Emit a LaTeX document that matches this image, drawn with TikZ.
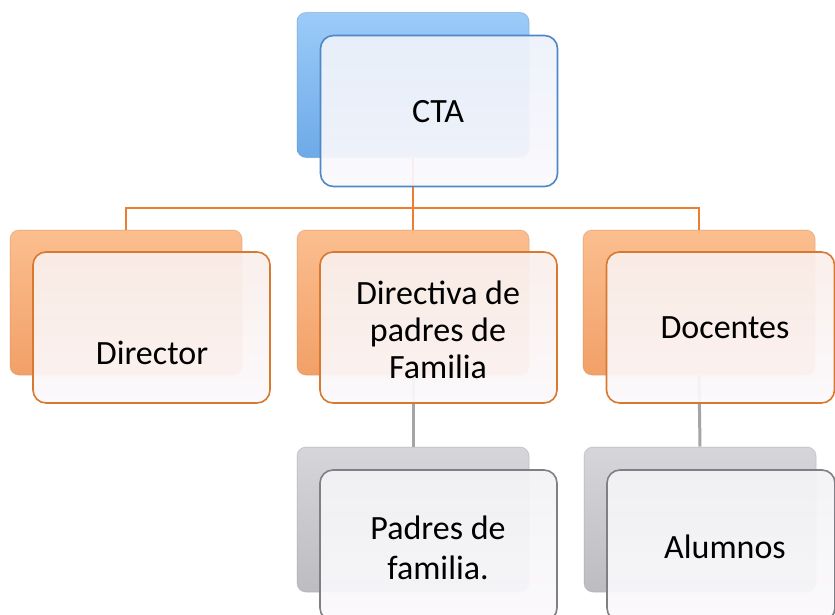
\documentclass[tikz,border=0pt]{standalone}
\usepackage{fontspec}
\setmainfont{Carlito}
\definecolor{bluetop}{HTML}{9CCBF8}
\definecolor{bluebot}{HTML}{6DAAE8}
\definecolor{blueedge}{HTML}{4F87C6}
\definecolor{orgtop}{HTML}{FBBE8F}
\definecolor{orgbot}{HTML}{F2A068}
\definecolor{orgedge}{HTML}{D9782F}
\definecolor{graytop}{HTML}{D6D6DA}
\definecolor{graybot}{HTML}{BCBCC1}
\definecolor{grayedge}{HTML}{808084}
\definecolor{orgline}{HTML}{ED7D31}
\definecolor{grayline}{HTML}{A5A5A8}
\definecolor{bluefront}{HTML}{EDF2FA}
\definecolor{orgfront}{HTML}{FAEFEB}
\definecolor{grayfront}{HTML}{F3F3F5}
\definecolor{frontbot}{HTML}{FBF9FC}
\begin{document}
\begin{tikzpicture}[x=1pt,y=-1pt,
  backbox/.style={rectangle, rounded corners=9pt, minimum width=232pt, minimum height=145pt, inner sep=0pt},
  bluebk/.style={backbox, top color=bluetop, bottom color=bluebot, draw=bluebot!85!black, draw opacity=0.35, line width=1pt},
  orgbk/.style={backbox, top color=orgtop, bottom color=orgbot, draw=orgbot!85!black, draw opacity=0.35, line width=1pt},
  graybk/.style={backbox, top color=graytop, bottom color=graybot, draw=graybot!85!black, draw opacity=0.35, line width=1pt},
  frontbox/.style={rectangle, rounded corners=13pt, minimum width=237pt, minimum height=151pt, inner sep=0pt, line width=1.6pt, fill opacity=0.93},
  bluefr/.style={frontbox, draw=blueedge, top color=bluefront, bottom color=frontbot},
  orgfr/.style={frontbox, draw=orgedge, top color=orgfront, bottom color=frontbot},
  grayfr/.style={frontbox, draw=grayedge, top color=grayfront, bottom color=frontbot},
  lbl/.style={align=center, font=\fontsize{34}{37}\selectfont, text=black, inner sep=0pt},
  oline/.style={draw=orgline, line width=2pt},
  gline/.style={draw=grayline, line width=3pt}
]
\useasboundingbox (0,0) rectangle (835,615);
\fill[white] (0,0) rectangle (835,615);

% back boxes
\node[bluebk] (ctab) at (413,85) {};
\node[orgbk] (dirb) at (126,302.5) {};
\node[orgbk] (dpfb) at (413,302.5) {};
\node[orgbk] (docb) at (699,302.5) {};
\node[graybk] (padb) at (413,519.5) {};
\node[graybk] (alub) at (700,519.5) {};

% connectors
\coordinate (hub) at (413,208);
\draw[oline] (ctab.south) -- (hub);
\draw[oline] (dirb.north) |- (hub) -| (docb.north);
\draw[oline] (hub) -- (dpfb.north);
\draw[gline] (dpfb.south) -- (padb.north);
\draw[gline] (docb.south) -- (alub.north);

% front boxes
\node[bluefr] (ctaf) at (439,111) {};
\node[orgfr] (dirf) at (151.5,327.5) {};
\node[orgfr] (dpff) at (438.5,327.5) {};
\node[orgfr, minimum width=228pt] (docf) at (720.5,327.5) {};
\node[grayfr] (padf) at (438.5,545.5) {};
\node[grayfr, minimum width=228pt] (aluf) at (721,545.5) {};

% labels
\node[lbl] (ctat) at (438,112) {CTA};
\node[lbl] (dirt) at (152,353) {Director};
\node[lbl] (dpft) at (438,330) {Directiva de\\padres de\\Familia};
\node[lbl] (doct) at (725,328) {Docentes};
\node[lbl, font=\fontsize{34}{40}\selectfont] (padt) at (438,548) {Padres de\\familia.};
\node[lbl] (alut) at (725,547) {Alumnos};
\end{tikzpicture}
\end{document}
